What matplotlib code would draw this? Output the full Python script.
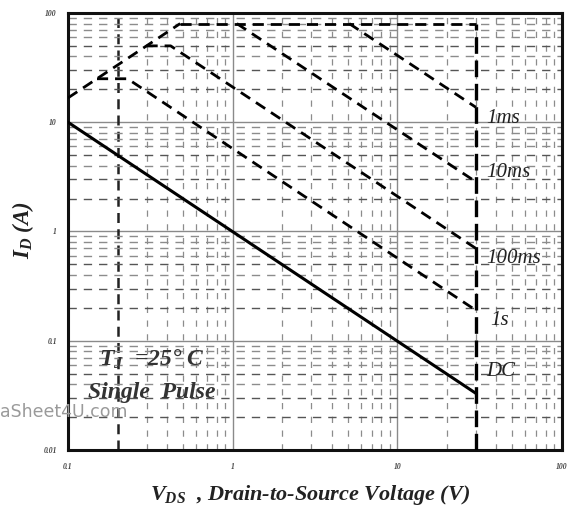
import matplotlib
matplotlib.use("Agg")
import matplotlib.pyplot as plt
import numpy as np

# Safe operating area corner points (V_DS in volts, I_D in amps)
rds_v = [0.1, 0.48]
rds_i = [16.7, 80.0]
pulse_max_v = [0.48, 30.0]
pulse_max_i = [80.0, 80.0]
t1ms_v = [5.1, 30.0]
t1ms_i = [80.0, 13.7]
t10ms_v = [1.06, 30.0]
t10ms_i = [80.0, 2.85]
t100ms_v = [0.30, 0.42, 30.0]
t100ms_i = [50.0, 50.0, 0.70]
t1s_v = [0.15, 0.23, 30.0]
t1s_i = [25.0, 25.0, 0.19]
dc_v = [0.1, 30.0]
dc_i = [10.0, 0.033]
vdss_v = [30.0, 30.0]
vdss_i = [0.01, 80.0]

curve_labels = ["1ms", "10ms", "100ms", "1s", "DC"]
curve_label_i = [10.9, 3.5, 0.57, 0.154, 0.052]

x_ticks = [0.1, 1, 10, 100]
x_tick_labels = ["0.1", "1", "10", "100"]
y_ticks = [0.01, 0.1, 1, 10, 100]
y_tick_labels = ["0.01", "0.1", "1", "10", "100"]

plt.rcParams["mathtext.fontset"] = "custom"
plt.rcParams["mathtext.it"] = "Liberation Serif:bold:italic"
plt.rcParams["mathtext.rm"] = "Liberation Serif:bold:italic"
plt.rcParams["mathtext.bf"] = "Liberation Serif:bold:italic"

serif = dict(family="Liberation Serif", style="italic", weight="bold")

fig = plt.figure(figsize=(5.72, 5.15), dpi=100)
ax = fig.add_axes([0.1189, 0.1262, 0.8636, 0.8486])
ax.set_xscale("log")
ax.set_yscale("log")
ax.set_xlim(0.1, 100)
ax.set_ylim(0.01, 100)

# grid: solid decades, dashed minor lines
for d in [1, 10]:
    ax.axvline(d, color="#8a8a8a", lw=1.0, zorder=1)
for d in [0.1, 1, 10]:
    ax.axhline(d, color="#8a8a8a", lw=1.0, zorder=1)
for dec in [0.1, 1, 10]:
    for m in range(2, 10):
        v = dec * m
        if v == 0.2:
            ax.axvline(v, color="#222222", lw=1.8, ls=(0, (4, 2.5)), zorder=1)
        else:
            ax.axvline(v, color="#8c8c8c", lw=0.9, ls=(0, (5, 6)), zorder=1)
for dec in [0.01, 0.1, 1, 10]:
    for m in range(2, 10):
        c = "#555555" if m in (2, 3, 5) else "#8c8c8c"
        ax.axhline(dec * m, color=c, lw=1.0, ls=(0, (6, 5)), zorder=1)

dash = (0, (4, 2.5))
for v, i in [(rds_v, rds_i), (pulse_max_v, pulse_max_i), (t1ms_v, t1ms_i),
             (t10ms_v, t10ms_i), (t100ms_v, t100ms_i), (t1s_v, t1s_i)]:
    ax.plot(v, i, color="black", lw=2.0, ls=dash, zorder=3)
ax.plot(vdss_v, vdss_i, color="black", lw=2.4, ls=(0, (5, 2)), zorder=3)
ax.plot(dc_v, dc_i, color="black", lw=2.2, zorder=3)

for lab, yi in zip(curve_labels, curve_label_i):
    xv = 36.6 if lab == "1s" else 34.5
    ax.text(xv, yi, lab, ha="left", va="center", fontsize=15,
            family="Liberation Serif", style="italic", color="#222222", zorder=4)

ax.text(0.155, 0.067, r"$T_{J}$  =25° C", ha="left", va="center", fontsize=17,
        color="#333333", zorder=4, **serif)
ax.text(0.132, 0.0335, "Single  Pulse", ha="left", va="center", fontsize=17,
        color="#333333", zorder=4, **serif)

ax.set_xticks(x_ticks)
ax.set_xticklabels(x_tick_labels)
ax.set_yticks(y_ticks)
ax.set_yticklabels(y_tick_labels)
ax.minorticks_off()
ax.tick_params(length=0, labelsize=5.5, colors="#444444")
ax.tick_params(axis="x", pad=9)
ax.tick_params(axis="y", pad=8)
for t in ax.get_xticklabels() + ax.get_yticklabels():
    t.set_family("Liberation Serif")
    t.set_style("italic")
    t.set_weight("bold")

for s in ax.spines.values():
    s.set_linewidth(2.2)
    s.set_color("#111111")

fig.text(23 / 572, 1 - 230 / 515, r"$I_{D}$ (A)", rotation=90, ha="center",
         va="center", fontsize=16.5, color="#222222", **serif)
fig.text(310 / 572, 1 - 495 / 515, r"$V_{DS}$  , Drain-to-Source Voltage (V)",
         ha="center", va="center", fontsize=16, color="#222222", **serif)

fig.text(0.0, 1 - 412 / 515, "aSheet4U.com", ha="left", va="center",
         fontsize=12.5, color="#9a9a9a", family="DejaVu Sans", zorder=5)

fig.savefig("out.png", dpi=100)
